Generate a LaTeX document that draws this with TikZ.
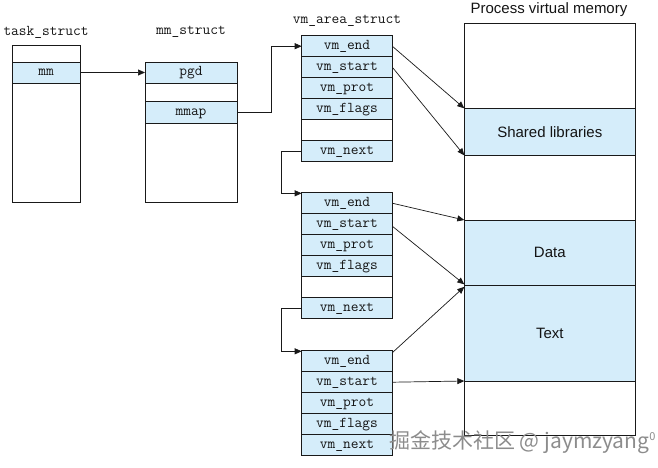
\documentclass[tikz,border=0pt]{standalone}
\usepackage{fontspec}
\newfontfamily\sansf{Liberation Sans}
\newfontfamily\cjk{Noto Sans CJK SC}
\usetikzlibrary{arrows.meta,calc}
\definecolor{fillblue}{RGB}{213,237,250}
\definecolor{linec}{RGB}{25,25,25}
\definecolor{txtc}{RGB}{20,20,20}
\begin{document}
\begin{tikzpicture}[x=1pt,y=-1pt,
  box/.style={draw=linec, line width=0.8pt, inner sep=0pt, outer sep=0pt, anchor=north west},
  cell/.style={box, fill=fillblue, minimum width=#1, minimum height=21pt,
    text height=9.5pt, text depth=3pt, text=txtc, font=\fontsize{15}{15}\ttfamily},
  blank/.style={box, fill=white, minimum width=#1, minimum height=21pt},
  vmrow/.style={cell=90.6pt},
  vmblank/.style={blank=90.6pt},
  band/.style={box, fill=fillblue, minimum width=171pt, text=txtc, font=\fontsize{15}{15}\sansf},
  title/.style={text=txtc, inner sep=0pt, font=\fontsize{15}{15}\ttfamily},
  arr/.style={draw=linec, line width=0.7pt, -{Triangle[length=7pt,width=6pt]}}
]
\useasboundingbox (0,0) rectangle (658,467);

% titles
\node[title] (tst) at (46,32) {task\_struct};
\node[title] (mst) at (191,32) {mm\_struct};
\node[title] (vat) at (347,21) {vm\_area\_struct};
\node[text=txtc, inner sep=0pt, font=\fontsize{15}{15}\sansf] (pvt) at (549,10) {Process virtual memory};

% task_struct
\node[box, minimum width=68pt, minimum height=156.3pt] (ts) at (12,45.7) {};
\node[cell=68pt] (tsmm) at (12,62) {mm};

% mm_struct
\node[box, minimum width=92pt, minimum height=140pt] (ms) at (145,62) {};
\node[cell=92pt] (pgd) at (145,62) {pgd};
\node[cell=92pt, minimum height=22pt] (mmap) at (145,101) {mmap};

% vm_area_struct 1
\node[vmrow] (b1end)   at (301.7,35.7) {vm\_end};
\node[vmrow] (b1start) at (301.7,56.7) {vm\_start};
\node[vmrow] (b1prot)  at (301.7,77.7) {vm\_prot};
\node[vmrow] (b1flags) at (301.7,98.7) {vm\_flags};
\node[vmblank] (b1blank) at (301.7,119.7) {};
\node[vmrow] (b1next)  at (301.7,140.7) {vm\_next};

% vm_area_struct 2
\node[vmrow] (b2end)   at (301.7,192.7) {vm\_end};
\node[vmrow] (b2start) at (301.7,213.7) {vm\_start};
\node[vmrow] (b2prot)  at (301.7,234.7) {vm\_prot};
\node[vmrow] (b2flags) at (301.7,255.7) {vm\_flags};
\node[vmblank] (b2blank) at (301.7,276.7) {};
\node[vmrow] (b2next)  at (301.7,297.7) {vm\_next};

% vm_area_struct 3
\node[vmrow] (b3end)   at (301.7,350.7) {vm\_end};
\node[vmrow] (b3start) at (301.7,371.7) {vm\_start};
\node[vmrow] (b3prot)  at (301.7,392.7) {vm\_prot};
\node[vmrow] (b3flags) at (301.7,413.7) {vm\_flags};
\node[vmrow] (b3next)  at (301.7,434.7) {vm\_next};

% process virtual memory
\node[band, minimum height=47pt] (shared) at (464.3,108.3) {Shared libraries};
\node[band, minimum height=65.3pt] (data) at (464.3,220) {Data};
\node[band, minimum height=95.7pt] (text) at (464.3,285.3) {Text};
\node[box, minimum width=171pt, minimum height=412.2pt] (pvm) at (464.3,23.3) {};

% connectors
\draw[arr] (tsmm.east) -- (pgd.west);
\draw[arr] (mmap.east) -- ++(34,0) |- (b1end.west);
\draw[arr] (b1next.west) -- ++(-20,0) |- ([yshift=-0.6pt]b2end.north west);
\draw[arr] (b2next.west) -- ++(-20,0) |- ([yshift=-0.6pt]b3end.north west);
\draw[arr] (b1end.east) -- (shared.north west);
\draw[arr] (b1start.east) -- (shared.south west);
\draw[arr] (b2end.east) -- (data.north west);
\draw[arr] ([yshift=-2pt]b2start.east) -- ([yshift=1pt]data.south west);
\draw[arr] ([yshift=-2pt]b3end.north east) -- ([yshift=-1.5pt]data.south west);
\draw[arr] (b3start.east) -- (text.south west);

% watermark
\node[anchor=base west, inner sep=0pt, text=black!45, font=\cjk\fontsize{21}{21}\selectfont] (wm) at (389,448)
  {掘金技术社区 @ jaymzyang\raisebox{8pt}{\fontsize{11}{11}\selectfont 0}};
\end{tikzpicture}
\end{document}
